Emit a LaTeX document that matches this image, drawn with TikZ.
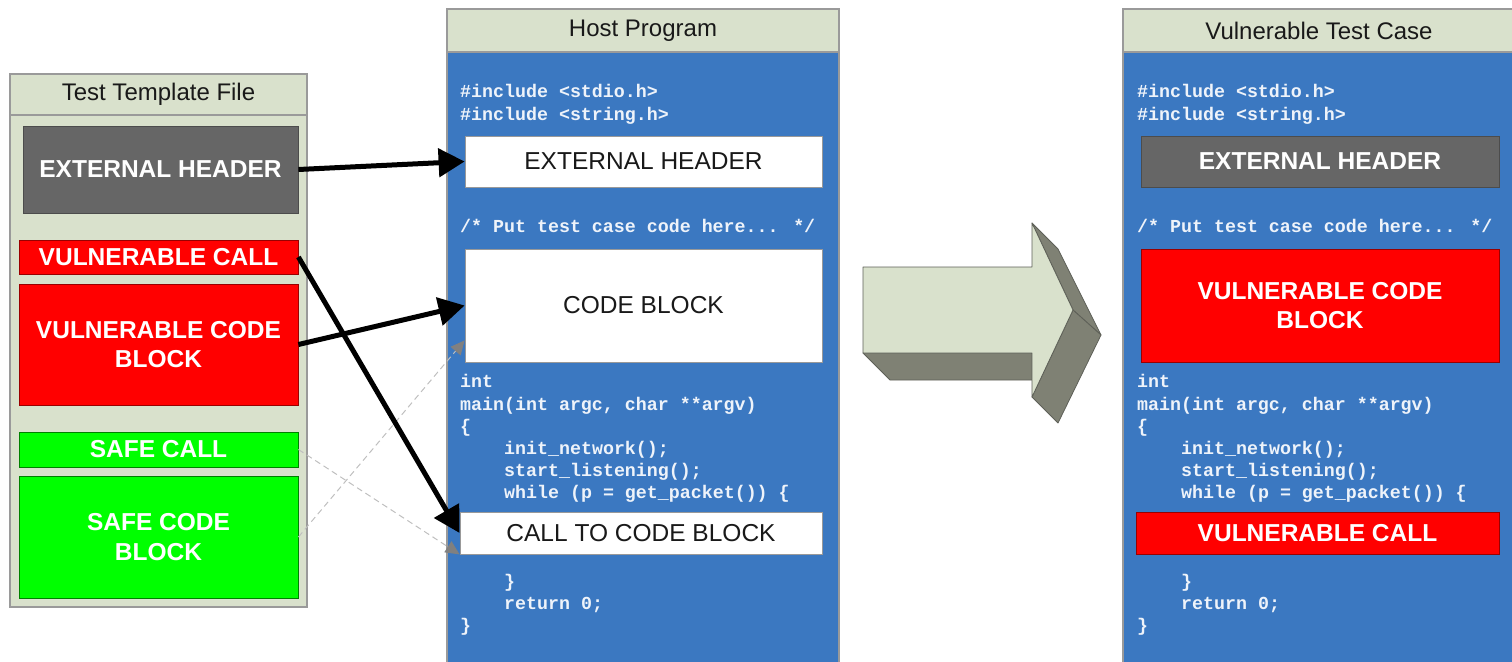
\documentclass[tikz,border=0pt]{standalone}
\usepackage{fontspec}
\setmainfont{Liberation Sans}
\newfontfamily\codefont{Liberation Mono}
\usetikzlibrary{arrows.meta}

\definecolor{panelblue}{HTML}{3B78C1}
\definecolor{bandgreen}{HTML}{D9E1CC}
\definecolor{darkbox}{HTML}{666666}
\definecolor{codewhite}{HTML}{EEF3FA}
\definecolor{sidegray}{HTML}{7F8174}
\definecolor{edgegray}{HTML}{9A9A9A}
\definecolor{arrowedge}{HTML}{5E6058}

\tikzset{
  box/.style={draw, rectangle, inner sep=0pt, align=center, line width=0.8pt},
  plainlabel/.style={font=\fontsize{24.5}{29.5}\selectfont, text=black!90},
  boldlabel/.style={font=\fontsize{24.5}{29.5}\selectfont\bfseries, text=white},
  titleband/.style={box, fill=bandgreen, draw=edgegray, line width=1.2pt,
    font=\fontsize{24}{28}\selectfont, text=black!90},
  panel/.style={box, line width=1.2pt, draw=edgegray},
  whitebox/.style={box, fill=white, draw=gray!80, plainlabel},
  greybox/.style={box, fill=darkbox, draw=black!70, boldlabel},
  redbox/.style={box, fill=red, draw=red!60!black, boldlabel},
  greenbox/.style={box, fill=green, draw=green!50!black, boldlabel},
  code/.style={anchor=base west, inner sep=0pt, text=codewhite,
    font=\fontsize{18.3}{22}\selectfont\codefont\bfseries},
  strongarrow/.style={-{Triangle[length=26pt,width=28pt]}, line width=5pt, draw=black},
  faintarrow/.style={-{Triangle[length=14pt,width=13pt,color=gray]}, line width=1pt,
    draw=gray!50, dash pattern=on 6pt off 4pt},
  faceshade/.style={draw=arrowedge, line width=0.8pt, line join=round}
}

% C skeleton shared by both programs; #1 prefixes the node names
\newcommand\codelisting[1]{%
  \node[code] (#1inca) at (0,97)  {\#include <stdio.h>};
  \node[code] (#1incb) at (0,120) {\#include <string.h>};
  \node[code] (#1note) at (0,232) {/* Put test case code here... */};
  \node[code] (#1int)  at (0,387) {int};
  \node[code] (#1main) at (0,410) {main(int argc, char **argv)};
  \node[code] (#1open) at (0,432) {\{};
  \node[code] (#1init) at (44,454) {init\_network();};
  \node[code] (#1listen) at (44,476) {start\_listening();};
  \node[code] (#1loop) at (44,498) {while (p = get\_packet()) \{};
  \node[code] (#1endloop) at (44,587) {\}};
  \node[code] (#1ret) at (44,609) {return 0;};
  \node[code] (#1close) at (0,631) {\}};
}

\begin{document}
\begin{tikzpicture}[x=1pt, y=-1pt]
  \useasboundingbox (0,0) rectangle (1512,661);

  % ---- test template file ----
  \node[panel, fill=bandgreen, minimum width=297pt, minimum height=533pt] (tpl) at (158.5,340.5) {};
  \node[titleband, minimum width=297pt, minimum height=41pt] (tpltitle) at (158.5,94.5) {Test Template File};
  \node[greybox, minimum width=275pt, minimum height=87pt] (thdr) at (160.5,169.5) {EXTERNAL HEADER};
  \node[redbox, minimum width=279pt, minimum height=34pt] (vcall) at (158.5,257) {VULNERABLE CALL};
  \node[redbox, minimum width=279pt, minimum height=121pt] (vcode) at (158.5,344.5) {VULNERABLE CODE\\BLOCK};
  \node[greenbox, minimum width=279pt, minimum height=35pt] (scall) at (158.5,449.5) {SAFE CALL};
  \node[greenbox, minimum width=279pt, minimum height=122pt] (scode) at (158.5,537) {SAFE CODE\\BLOCK};

  % ---- host program ----
  \node[panel, fill=panelblue, minimum width=392pt, minimum height=662pt] (host) at (643,340) {};
  \node[titleband, minimum width=392pt, minimum height=43pt] (hosttitle) at (643,30.5) {Host Program};
  \begin{scope}[xshift=460pt]
    \codelisting{h}
  \end{scope}
  \node[whitebox, minimum width=357pt, minimum height=51pt] (hhdr) at (643.5,161.5) {EXTERNAL HEADER};
  \node[whitebox, minimum width=357pt, minimum height=113pt] (hblock) at (643.5,305.5) {CODE BLOCK};
  \node[whitebox, minimum width=362pt, minimum height=42pt] (hcall) at (641,533) {CALL TO CODE BLOCK};

  % ---- vulnerable test case ----
  \node[panel, fill=panelblue, minimum width=392pt, minimum height=662pt] (vtc) at (1319,340) {};
  \node[titleband, minimum width=392pt, minimum height=43pt] (vtctitle) at (1319,30.5) {Vulnerable Test Case};
  \begin{scope}[xshift=1137pt]
    \codelisting{v}
  \end{scope}
  \node[greybox, minimum width=358pt, minimum height=51pt] (vhdr) at (1320,161.5) {EXTERNAL HEADER};
  \node[redbox, minimum width=358pt, minimum height=113pt] (vblock) at (1320,305.5) {VULNERABLE CODE\\BLOCK};
  \node[redbox, minimum width=363pt, minimum height=42pt] (vcallin) at (1317.5,533) {VULNERABLE CALL};

  % ---- solid block arrow between the programs ----
  \fill[sidegray, faceshade] (863,353) -- (890,380) -- (1045,380) -- (1032,353) -- cycle;
  \fill[sidegray, faceshade] (1032,223) -- (1058,249) -- (1101,335) -- (1073,310) -- cycle;
  \fill[sidegray, faceshade] (1073,310) -- (1101,335) -- (1058,423) -- (1032,397) -- cycle;
  \filldraw[fill=bandgreen, faceshade]
    (863,267) -- (1032,267) -- (1032,223) -- (1073,310) -- (1032,397) -- (1032,353) -- (863,353) -- cycle;

  % ---- insertion arrows ----
  \draw[faintarrow] (scall.east) -- (hcall.south west);
  \draw[faintarrow] (scode.east) -- ([yshift=22pt]hblock.south west);
  \draw[strongarrow] (thdr.east) -- (hhdr.west);
  \draw[strongarrow] (vcode.east) -- (hblock.west);
  \draw[strongarrow] (vcall.east) -- (hcall.west);
\end{tikzpicture}
\end{document}
